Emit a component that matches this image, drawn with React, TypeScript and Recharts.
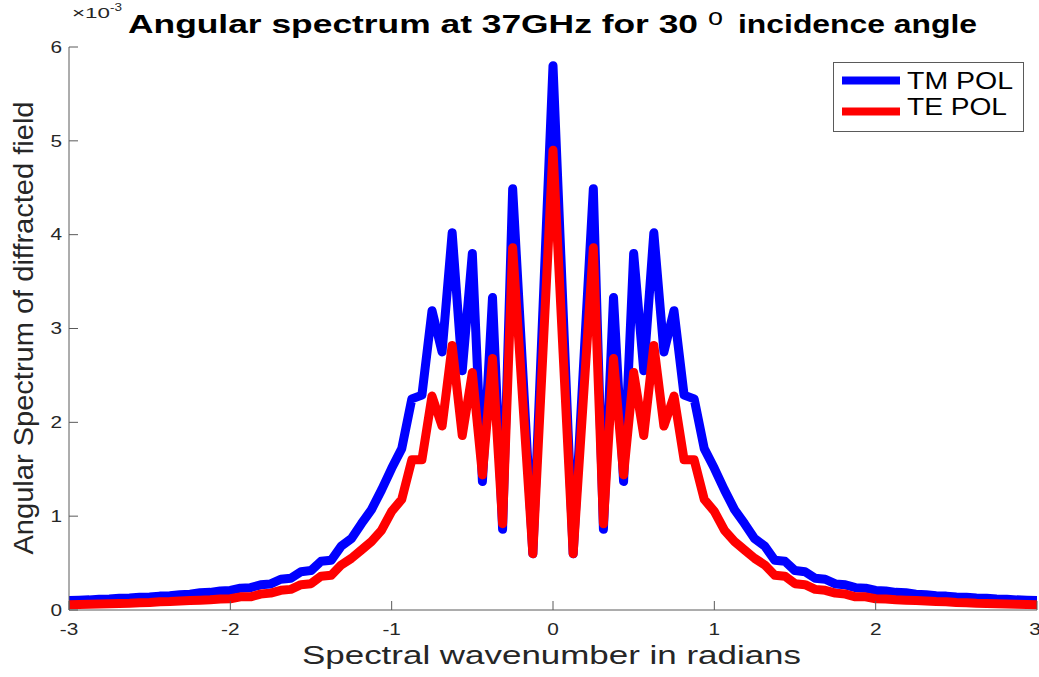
import React from 'react';
import { LineChart, Line, XAxis, YAxis, Legend } from 'recharts';

// Spectral wavenumber (radians)
const xValues = [
  -3, -2.9375, -2.875, -2.8125, -2.75, -2.6875, -2.625, -2.5625, -2.5, -2.4375, -2.375, -2.3125,
  -2.25, -2.1875, -2.125, -2.0625, -2, -1.9375, -1.875, -1.8125, -1.75, -1.6875, -1.625, -1.5625,
  -1.5, -1.4375, -1.375, -1.3125, -1.25, -1.1875, -1.125, -1.0625, -1, -0.9375, -0.875, -0.8125,
  -0.75, -0.6875, -0.625, -0.5625, -0.5, -0.4375, -0.375, -0.3125, -0.25, -0.1875, -0.125, -0.0625,
  0,
  0.0625, 0.125, 0.1875, 0.25, 0.3125, 0.375, 0.4375, 0.5, 0.5625, 0.625, 0.6875, 0.75,
  0.8125, 0.875, 0.9375, 1, 1.0625, 1.125, 1.1875, 1.25, 1.3125, 1.375, 1.4375, 1.5,
  1.5625, 1.625, 1.6875, 1.75, 1.8125, 1.875, 1.9375, 2, 2.0625, 2.125, 2.1875, 2.25,
  2.3125, 2.375, 2.4375, 2.5, 2.5625, 2.625, 2.6875, 2.75, 2.8125, 2.875, 2.9375, 3,
];

// TM polarisation (x10^-3)
const tmPol = [
  0.10, 0.105, 0.108, 0.115, 0.118, 0.125, 0.128, 0.135, 0.138, 0.148, 0.152, 0.163,
  0.168, 0.183, 0.188, 0.203, 0.208, 0.233, 0.238, 0.268, 0.278, 0.328, 0.338, 0.408,
  0.42, 0.52, 0.53, 0.68, 0.76, 0.92, 1.07, 1.28, 1.51, 1.72, 2.25, 2.29,
  3.19, 2.75, 4.02, 2.55, 3.80, 1.37, 3.33, 0.86, 4.49, 2.55, 0.60, 3.20,
  5.80,
  3.20, 0.60, 2.55, 4.49, 0.86, 3.33, 1.37, 3.80, 2.55, 4.02, 2.75, 3.19,
  2.29, 2.25, 1.72, 1.51, 1.28, 1.07, 0.92, 0.76, 0.68, 0.53, 0.52, 0.42,
  0.408, 0.338, 0.328, 0.278, 0.268, 0.238, 0.233, 0.208, 0.203, 0.188, 0.183, 0.168,
  0.163, 0.152, 0.148, 0.138, 0.135, 0.128, 0.125, 0.118, 0.115, 0.108, 0.105, 0.10,
];

// TE polarisation (x10^-3)
const tePol = [
  0.055, 0.058, 0.06, 0.064, 0.066, 0.07, 0.072, 0.078, 0.08, 0.088, 0.09, 0.097,
  0.10, 0.105, 0.11, 0.118, 0.12, 0.14, 0.14, 0.17, 0.18, 0.21, 0.22, 0.27,
  0.28, 0.36, 0.37, 0.48, 0.55, 0.64, 0.73, 0.85, 1.05, 1.18, 1.60, 1.60,
  2.28, 1.96, 2.82, 1.86, 2.53, 1.44, 2.68, 0.92, 3.86, 2.23, 0.60, 2.74,
  4.90,
  2.74, 0.60, 2.23, 3.86, 0.92, 2.68, 1.44, 2.53, 1.86, 2.82, 1.96, 2.28,
  1.60, 1.60, 1.18, 1.05, 0.85, 0.73, 0.64, 0.55, 0.48, 0.37, 0.36, 0.28,
  0.27, 0.22, 0.21, 0.18, 0.17, 0.14, 0.14, 0.12, 0.118, 0.11, 0.105, 0.10,
  0.097, 0.09, 0.088, 0.08, 0.078, 0.072, 0.07, 0.066, 0.064, 0.06, 0.058, 0.055,
];

const xTicks = [-3, -2, -1, 0, 1, 2, 3];
const yTicks = [0, 1, 2, 3, 4, 5, 6];
const seriesKeys = ['tm', 'te'];
const seriesNames = ['TM POL', 'TE POL'];
const seriesColors = ['#0000ff', '#ff0000'];
const legendTextLengths = [106, 100];

const data = xValues.map((x, i) => ({ x, tm: tmPol[i], te: tePol[i] }));

const W = 1039;
const H = 677;
const AXIS = '#5a5a5a';
const TXT = '#262626';
const FONT = '"Liberation Sans", Arial, Helvetica, sans-serif';
const TICK_LEN = 9;

const XTick = (props: any) => {
  const { x, y, payload } = props;
  return (
    <text
      transform={`translate(${x},${y + 16}) scale(1.3,1)`}
      textAnchor="middle"
      fontSize={16}
      fontFamily={FONT}
      fill={TXT}
    >
      {payload.value}
    </text>
  );
};

const YTick = (props: any) => {
  const { x, y, payload } = props;
  return (
    <text
      transform={`translate(${x + 2},${y + 5.8}) scale(1.3,1)`}
      textAnchor="end"
      fontSize={16}
      fontFamily={FONT}
      fill={TXT}
    >
      {payload.value}
    </text>
  );
};

const LegendBox = () => (
  <svg width={191} height={70} style={{ display: 'block' }}>
    <rect x={0.5} y={0.5} width={190} height={69} fill="#fff" stroke={AXIS} strokeWidth={1} />
    {seriesNames.map((name, i) => (
      <g key={name}>
        <line x1={9} x2={67} y1={18.5 + i * 31} y2={18.5 + i * 31} stroke={seriesColors[i]} strokeWidth={8} />
        <text
          x={74}
          y={27 + i * 26}
          fontSize={23}
          fontFamily={FONT}
          fill="#000"
          textLength={legendTextLengths[i]}
          lengthAdjust="spacingAndGlyphs"
        >
          {name}
        </text>
      </g>
    ))}
  </svg>
);

export default function App() {
  return (
    <div style={{ position: 'absolute', left: 0, top: 0, width: W, height: H, background: '#fff' }}>
      <LineChart width={W} height={H} data={data} margin={{ top: 47, right: 2, bottom: 0, left: 0 }}>
        <XAxis
          dataKey="x"
          type="number"
          domain={[-3, 3]}
          ticks={xTicks}
          allowDataOverflow
          height={67}
          tickSize={TICK_LEN}
          tickMargin={0}
          axisLine={{ stroke: AXIS }}
          tickLine={{ stroke: AXIS, transform: `translate(0,-${TICK_LEN})` } as any}
          tick={<XTick />}
        />
        <XAxis
          xAxisId="top"
          orientation="top"
          dataKey="x"
          type="number"
          domain={[-3, 3]}
          ticks={xTicks}
          allowDataOverflow
          height={0}
          tickSize={TICK_LEN}
          axisLine={{ stroke: AXIS }}
          tickLine={{ stroke: AXIS, transform: `translate(0,${TICK_LEN})` } as any}
          tick={false}
        />
        <YAxis
          type="number"
          domain={[0, 6]}
          ticks={yTicks}
          allowDataOverflow
          width={69}
          tickSize={TICK_LEN}
          tickMargin={0}
          axisLine={{ stroke: AXIS }}
          tickLine={{ stroke: AXIS, transform: `translate(${TICK_LEN},0)` } as any}
          tick={<YTick />}
        />
        <YAxis
          yAxisId="right"
          orientation="right"
          type="number"
          domain={[0, 6]}
          ticks={yTicks}
          allowDataOverflow
          width={0}
          tickSize={TICK_LEN}
          axisLine={{ stroke: AXIS }}
          tickLine={{ stroke: AXIS, transform: `translate(-${TICK_LEN},0)` } as any}
          tick={false}
        />
        {seriesKeys.map((k, i) => (
          <Line
            key={k}
            dataKey={k}
            name={seriesNames[i]}
            type="linear"
            stroke={seriesColors[i]}
            strokeWidth={9}
            strokeLinejoin="round"
            strokeLinecap="round"
            dot={false}
            activeDot={false}
            isAnimationActive={false}
          />
        ))}
        <Legend
          layout="vertical"
          align="center"
          verticalAlign="middle"
          wrapperStyle={{ position: 'absolute', left: 833, top: 62, width: 191, height: 70 }}
          content={() => <LegendBox />}
        />
      </LineChart>
      <svg
        width={W}
        height={H}
        style={{ position: 'absolute', left: 0, top: 0, pointerEvents: 'none' }}
      >
        <text x={128} y={33} fontSize={25} fontWeight="bold" fontFamily={FONT} fill="#000"
          textLength={570} lengthAdjust="spacingAndGlyphs">
          Angular spectrum at 37GHz for 30
        </text>
        <text x={708} y={25} fontSize={23} fontFamily={FONT} fill="#000"
          textLength={15} lengthAdjust="spacingAndGlyphs">
          o
        </text>
        <text x={738} y={33} fontSize={25} fontWeight="bold" fontFamily={FONT} fill="#000"
          textLength={239} lengthAdjust="spacingAndGlyphs">
          incidence angle
        </text>
        <text x={72} y={18} fontSize={15} fontFamily={FONT} fill={TXT}
          textLength={38} lengthAdjust="spacingAndGlyphs">
          ×10
        </text>
        <text x={110} y={11} fontSize={11} fontFamily={FONT} fill={TXT}
          textLength={12} lengthAdjust="spacingAndGlyphs">
          -3
        </text>
        <text
          transform="translate(33,328) rotate(-90)"
          textAnchor="middle"
          fontSize={28}
          fontFamily={FONT}
          fill={TXT}
          textLength={453}
          lengthAdjust="spacingAndGlyphs"
        >
          Angular Spectrum of diffracted field
        </text>
        <text x={302} y={664} fontSize={25} fontFamily={FONT} fill={TXT}
          textLength={499} lengthAdjust="spacingAndGlyphs">
          Spectral wavenumber in radians
        </text>
      </svg>
    </div>
  );
}
